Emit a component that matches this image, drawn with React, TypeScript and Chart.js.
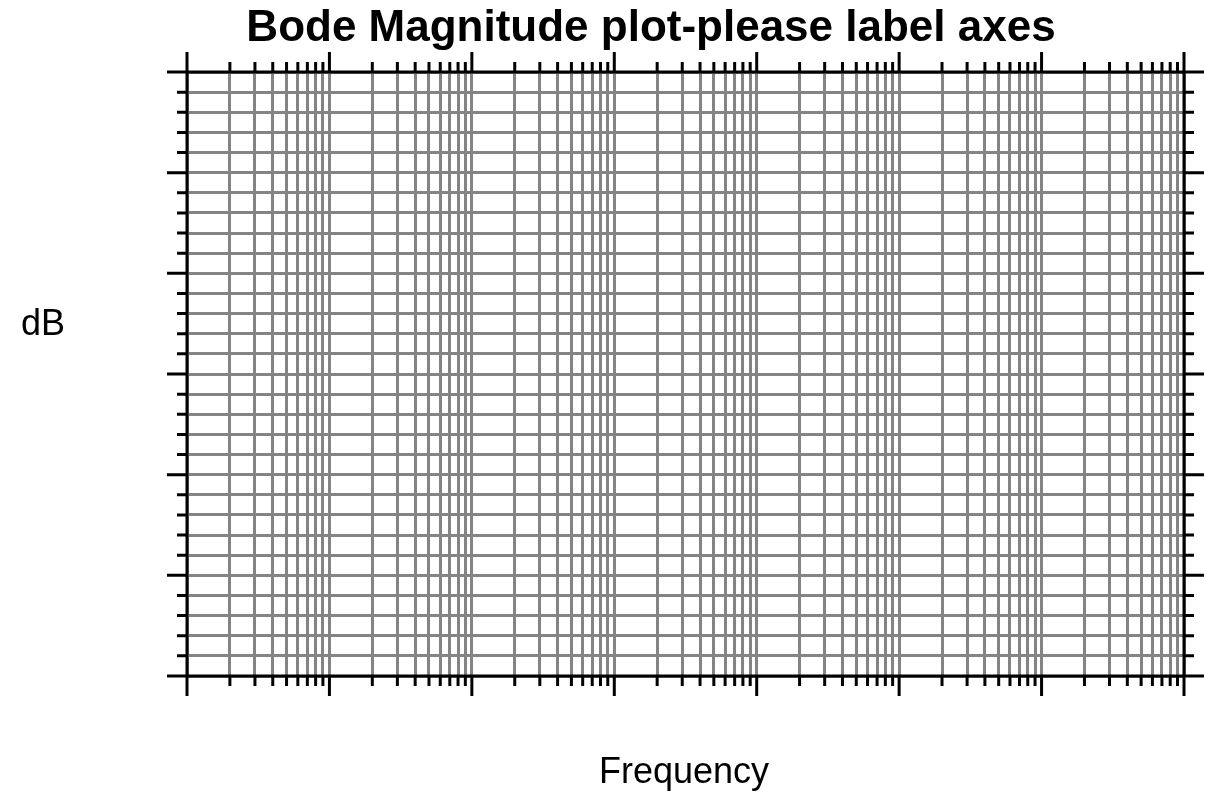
import React, { useEffect, useRef } from "react";
import { Chart, registerables } from "chart.js";

Chart.register(...registerables);

// Frequency axis: 7 decades, log scale
const decades = [1, 10, 100, 1000, 10000, 100000, 1000000, 10000000];
const minorMultipliers = [2, 3, 4, 5, 6, 7, 8, 9];
// Magnitude axis (unlabelled): 6 major divisions, 5 minor each
const yMin = 0;
const yMax = 30;
const yMajorStep = 5;
const yMinorStep = 1;

const titleText = "Bode Magnitude plot-please label axes";
const xLabel = "Frequency";
const yLabel = "dB";

const xGridValues: number[] = [];
decades.forEach((d, i) => {
  xGridValues.push(d);
  if (i < decades.length - 1) minorMultipliers.forEach((m) => xGridValues.push(d * m));
});
const yGridValues: number[] = [];
for (let v = yMin; v <= yMax; v += yMinorStep) yGridValues.push(v);

const axesPlugin = {
  id: "bodeAxes",
  afterDraw(chart: any) {
    const { ctx, chartArea, scales } = chart;
    const { left, right, top, bottom } = chartArea;
    const xs = scales.x;
    const ys = scales.y;
    const ext = 20;
    const major = 20;
    const minor = 10;
    ctx.save();
    ctx.strokeStyle = "#000";
    ctx.lineWidth = 3;
    ctx.lineCap = "butt";
    ctx.beginPath();
    // axis lines, extended past the corners
    ctx.moveTo(left - ext, top); ctx.lineTo(right + ext, top);
    ctx.moveTo(left - ext, bottom); ctx.lineTo(right + ext, bottom);
    ctx.moveTo(left, top - ext); ctx.lineTo(left, bottom + ext);
    ctx.moveTo(right, top - ext); ctx.lineTo(right, bottom + ext);
    // x minor ticks
    xGridValues.forEach((v) => {
      const px = xs.getPixelForValue(v);
      if (decades.includes(v)) return;
      ctx.moveTo(px, top); ctx.lineTo(px, top - minor);
      ctx.moveTo(px, bottom); ctx.lineTo(px, bottom + minor);
    });
    // x decade ticks (interior)
    decades.forEach((v, i) => {
      if (i === 0 || i === decades.length - 1) return;
      const px = xs.getPixelForValue(v);
      ctx.moveTo(px, top); ctx.lineTo(px, top - major);
      ctx.moveTo(px, bottom); ctx.lineTo(px, bottom + major);
    });
    // y ticks
    yGridValues.forEach((v) => {
      if (v === yMin || v === yMax) return;
      const py = ys.getPixelForValue(v);
      const isMajor = (v - yMin) % yMajorStep === 0;
      const len = isMajor ? major : minor;
      ctx.moveTo(left, py); ctx.lineTo(left - len, py);
      ctx.moveTo(right, py); ctx.lineTo(right + len, py);
    });
    ctx.stroke();

    // texts
    ctx.fillStyle = "#000";
    ctx.textBaseline = "alphabetic";
    ctx.textAlign = "center";
    ctx.font = "bold 44px 'Liberation Sans', Arial, sans-serif";
    ctx.fillText(titleText, 651, 41);
    ctx.font = "36px 'Liberation Sans', Arial, sans-serif";
    ctx.fillText(xLabel, 684, 783);
    ctx.textAlign = "left";
    ctx.fillText(yLabel, 21, 335);
    ctx.restore();
  },
};

export default function App() {
  const canvasRef = useRef<HTMLCanvasElement | null>(null);
  useEffect(() => {
    if (!canvasRef.current) return;
    const chart = new Chart(canvasRef.current, {
      type: "scatter",
      data: { datasets: [{ data: [], showLine: false }] },
      options: {
        animation: false,
        responsive: true,
        maintainAspectRatio: false,
        layout: { padding: { left: 187, top: 72, right: 22, bottom: 119 } },
        plugins: { legend: { display: false }, tooltip: { enabled: false }, title: { display: false } },
        scales: {
          x: {
            type: "logarithmic",
            min: decades[0],
            max: decades[decades.length - 1],
            afterBuildTicks: (scale: any) => {
              scale.ticks = xGridValues.map((v) => ({ value: v }));
            },
            ticks: { display: false },
            border: { display: false },
            grid: { color: "rgb(132,132,132)", lineWidth: 3, drawTicks: false },
          },
          y: {
            type: "linear",
            min: yMin,
            max: yMax,
            afterBuildTicks: (scale: any) => {
              scale.ticks = yGridValues.map((v) => ({ value: v }));
            },
            ticks: { display: false },
            border: { display: false },
            grid: { color: "rgb(132,132,132)", lineWidth: 3, drawTicks: false },
          },
        },
      },
      plugins: [axesPlugin],
    });
    return () => chart.destroy();
  }, []);
  return (
    <div style={{ position: "fixed", left: 0, top: 0, width: 1206, height: 795, background: "#fff" }}>
      <canvas ref={canvasRef} />
    </div>
  );
}
